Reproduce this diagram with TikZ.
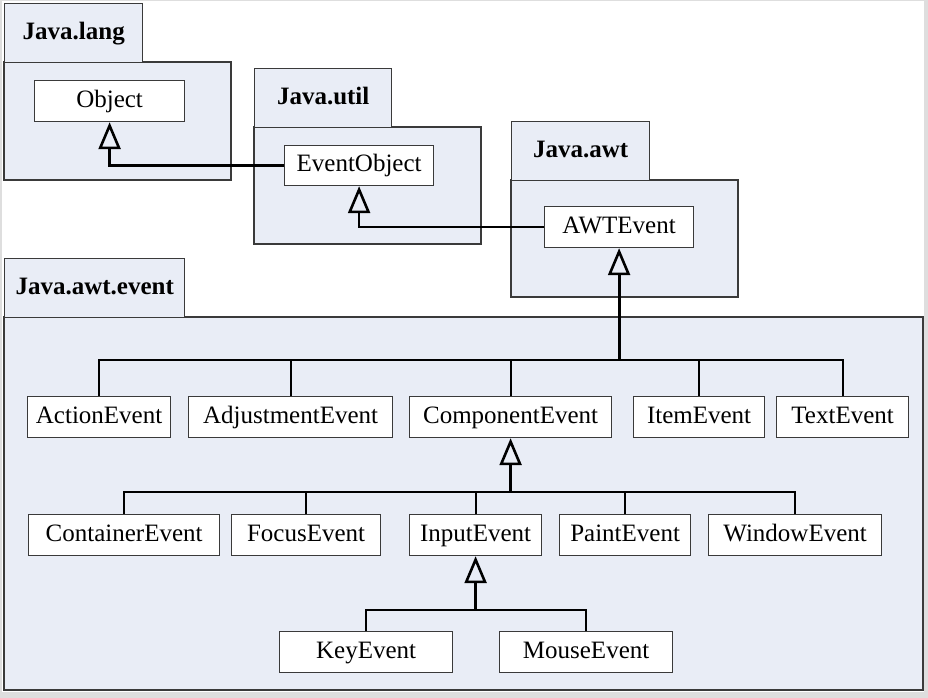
\documentclass[tikz,border=0pt]{standalone}
\usepackage{fontspec}
\setmainfont{Liberation Serif}
\usetikzlibrary{arrows.meta}
\definecolor{pkgfill}{HTML}{E9EDF6}
\definecolor{frame}{HTML}{3A3A3A}
\definecolor{outergray}{HTML}{DEDEDE}
\newcommand\classbox[6]{\node[cls,anchor=north west,minimum width={(#4-#2)*1pt},minimum height={(#5-#3)*1pt}] (#1) at (#2,#3) {#6};}
\newcommand\pkgtab[6]{\node[pkg,tab,anchor=north west,minimum width={(#4-#2)*1pt},minimum height={(#5-#3)*1pt}] (#1) at (#2,#3) {#6};}
\begin{document}
\begin{tikzpicture}[x=1pt,y=-1pt,
  cls/.style={draw=frame,line width=1.2pt,fill=white,font=\fontsize{25}{28}\selectfont,inner sep=0pt,text height=17pt,text depth=5pt},
  pkg/.style={draw=frame,line width=1.4pt,fill=pkgfill},
  tab/.style={font=\bfseries\fontsize{25}{28}\selectfont,inner sep=0pt,text height=17pt,text depth=5pt},
  branch/.style={line width=2pt,line join=miter,draw=black},
  trunk/.style={line width=3pt,draw=black},
  inh/.style={-{Triangle[open,length=27pt,width=22pt,line width=2.6pt]}}]
\useasboundingbox (0,0) rectangle (928,698);
\fill[outergray] (0,0) rectangle (928,698);
\fill[white] (2,1) rectangle (924,692);

% packages
\draw[pkg] (4,62) rectangle (231,180);
\pkgtab{tlang}{4}{3}{142}{62}{Java.lang}
\draw[pkg] (254,127) rectangle (481,244);
\pkgtab{tutil}{254}{68}{391}{127}{Java.util}
\draw[pkg] (511,180) rectangle (738,297);
\pkgtab{tawt}{511}{121}{649}{180}{Java.awt}
\draw[pkg] (4,317) rectangle (923,690);
\pkgtab{tevent}{4}{258}{184}{317}{Java.awt.event}

% classes
\classbox{obj}{34}{80}{184}{121}{Object}
\classbox{eo}{284}{145}{433}{185}{EventObject}
\classbox{awt}{544}{206}{693}{247}{AWTEvent}
\classbox{ae}{27}{396}{170}{437}{ActionEvent}
\classbox{adj}{188}{396}{392}{437}{AdjustmentEvent}
\classbox{ce}{409}{396}{611}{437}{ComponentEvent}
\classbox{ie}{633}{396}{764}{437}{ItemEvent}
\classbox{te}{776}{396}{908}{437}{TextEvent}
\classbox{cont}{28}{514}{219}{555}{ContainerEvent}
\classbox{fe}{231}{514}{380}{555}{FocusEvent}
\classbox{inp}{409}{514}{541}{555}{InputEvent}
\classbox{pe}{559}{514}{690}{555}{PaintEvent}
\classbox{we}{708}{514}{881}{555}{WindowEvent}
\classbox{ke}{279}{631}{452}{672}{KeyEvent}
\classbox{me}{499}{631}{672}{672}{MouseEvent}

% top connectors
\draw[branch,line width=2.5pt,inh] (eo.west) -| (obj.south);
\draw[branch,line width=2.5pt,inh] (awt.west) -| (eo.south);

% row 1
\coordinate (y1) at (0,360);
\coordinate (bar1) at (awt.south |- y1);
\foreach \n in {ae,adj,ce,ie,te} \draw[branch] (\n.north) |- (bar1);
\draw[trunk,inh] (bar1) -- (awt.south);

% row 2
\coordinate (y2) at (0,492);
\coordinate (bar2) at (ce.south |- y2);
\foreach \n in {cont,fe,inp,pe,we} \draw[branch] (\n.north) |- (bar2);
\draw[trunk,inh] (bar2) -- (ce.south);

% row 3
\coordinate (y3) at (0,610);
\coordinate (bar3) at (inp.south |- y3);
\foreach \n in {ke,me} \draw[branch] (\n.north) |- (bar3);
\draw[trunk,inh] (bar3) -- (inp.south);
\end{tikzpicture}
\end{document}
